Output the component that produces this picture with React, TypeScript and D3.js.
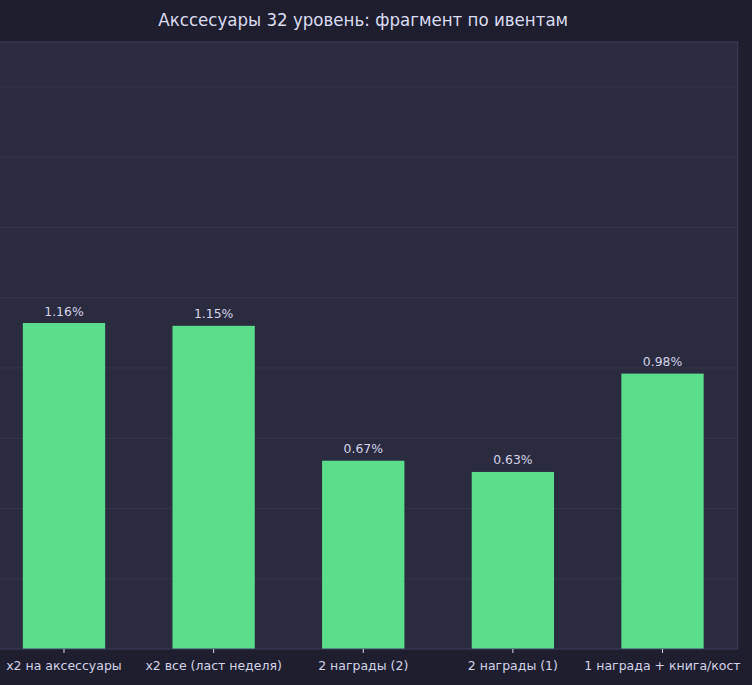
import React from "react";
import * as d3 from "d3";

const categories = [
  "x2 на аксессуары",
  "x2 все (ласт неделя)",
  "2 награды (2)",
  "2 награды (1)",
  "1 награда + книга/кост",
];
const values = [1.16, 1.15, 0.67, 0.63, 0.98];
const gridTicks = [0.25, 0.5, 0.75, 1.0, 1.25, 1.5, 1.75, 2.0];
const title = "Акссесуары 32 уровень: фрагмент по ивентам";

const W = 752;
const H = 685;
const plot = { left: -11.2, right: 737.7, top: 42, bottom: 649 };

export default function App() {
  const x = d3
    .scaleBand<string>()
    .domain(categories)
    .range([plot.left, plot.right])
    .paddingInner(0.45)
    .paddingOuter(0.2275);
  const y = d3.scaleLinear().domain([0, 2.16]).range([plot.bottom, plot.top]);
  const fmt = (v: number) => `${v.toFixed(2)}%`;

  return (
    <svg
      width={W}
      height={H}
      style={{ position: "fixed", left: 0, top: 0, display: "block" }}
      fontFamily="DejaVu Sans, sans-serif"
    >
      <rect x={0} y={0} width={W} height={H} fill="#1e1e2e" />
      <text
        x={(plot.left + plot.right) / 2}
        y={26}
        textAnchor="middle"
        fontSize={18.5}
        fill="#dcdcf2"
        fontFamily="DejaVu Sans Condensed, DejaVu Sans, sans-serif"
      >
        {title}
      </text>
      <rect
        x={plot.left}
        y={plot.top}
        width={plot.right - plot.left}
        height={plot.bottom - plot.top}
        fill="#2a2b3f"
      />
      {gridTicks.map((t) => (
        <line
          key={t}
          x1={plot.left}
          x2={plot.right}
          y1={y(t)}
          y2={y(t)}
          stroke="#35364c"
          strokeWidth={1}
        />
      ))}
      {categories.map((c, i) => (
        <rect
          key={c}
          x={x(c)}
          y={y(values[i])}
          width={x.bandwidth()}
          height={y(0) - y(values[i])}
          fill="#5ade8c"
        />
      ))}
      {categories.map((c, i) => (
        <text
          key={c}
          x={(x(c) as number) + x.bandwidth() / 2}
          y={y(values[i]) - 7.5}
          textAnchor="middle"
          fontSize={12.4}
          fill="#d4d4ea"
        >
          {fmt(values[i])}
        </text>
      ))}
      <rect
        x={plot.left}
        y={plot.top}
        width={plot.right - plot.left}
        height={plot.bottom - plot.top}
        fill="none"
        stroke="#3e3e62"
        strokeWidth={1}
      />
      {categories.map((c) => {
        const cx = (x(c) as number) + x.bandwidth() / 2;
        return (
          <g key={c}>
            <line x1={cx} x2={cx} y1={plot.bottom} y2={plot.bottom + 4} stroke="#d4d4ea" strokeWidth={1} />
            <text x={cx} y={plot.bottom + 20.5} textAnchor="middle" fontSize={12.5} fill="#d4d4ea">
              {c}
            </text>
          </g>
        );
      })}
    </svg>
  );
}
